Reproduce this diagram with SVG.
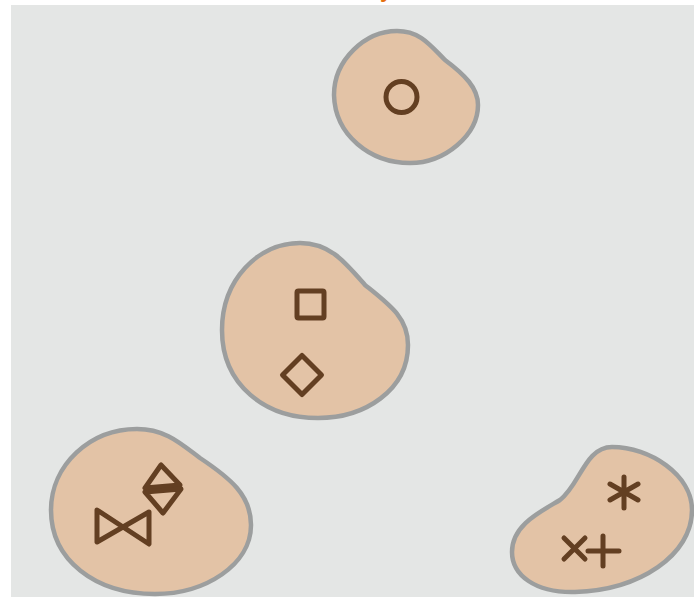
<svg xmlns="http://www.w3.org/2000/svg" width="694" height="597" viewBox="0 0 694 597">
<style>
.blob{fill:#e3c3a6;stroke:#9c9e9e;stroke-width:4.5}
.sym{fill:none;stroke:#633f22;stroke-width:5;stroke-linecap:round;stroke-linejoin:round}
.ttl{font-family:"Liberation Sans",Arial,sans-serif;font-weight:bold;font-size:22px;fill:#e5700f}
</style>
<rect x="0" y="0" width="694" height="597" fill="#ffffff"/>
<rect x="11" y="5" width="683" height="592" fill="#e4e6e5"/>
<text class="ttl" x="380" y="-3">y</text>
<g id="blob-top">
<path class="blob" d="M 397,31 C 420,31 430,45 445,60 C 465,75 478,88 478,105 C 478,135 445,163 410,163 C 370,163 335,135 334,95 C 334,60 365,31 397,31 Z"/>
<circle class="sym" cx="401.5" cy="97" r="15.5"/>
</g>
<g id="blob-middle">
<path class="blob" d="M 300,243 C 330,243 345,262 365,285 C 390,305 408,318 408,345 C 408,390 365,418 318,418 C 265,418 222,385 222,330 C 222,280 258,243 300,243 Z"/>
<rect class="sym" x="297" y="291" width="27" height="27" rx="1.5"/>
<path class="sym" d="M 302,355.5 L 321.5,375 L 302,394.5 L 282.5,375 Z"/>
</g>
<g id="blob-left">
<path class="blob" d="M 137,429 C 165,429 180,443 200,458 C 230,478 251,495 251,525 C 251,565 205,594 155,594 C 95,594 51,560 51,510 C 51,465 90,429 137,429 Z"/>
<path class="sym" d="M 97,510 L 149,544 L 149,512 L 97,542 Z"/>
<path class="sym" d="M 161,465 L 145,488 L 180,485 Z"/>
<path class="sym" d="M 145,492 L 181,489 L 163,513 Z"/>
</g>
<g id="blob-right">
<path class="blob" d="M 612,447 C 650,447 692,475 692,510 C 692,555 640,590 575,592 C 535,593 512,575 512,552 C 512,525 540,512 560,500 C 580,485 585,447 612,447 Z"/>
<path class="sym" d="M 624,477 L 624,508 M 610,484 L 638,500 M 610,500 L 638,484"/>
<path class="sym" d="M 564,538 L 585,559 M 564,559 L 585,538"/>
<path class="sym" d="M 588,551 L 619,551 M 603,536 L 603,566"/>
</g>
</svg>
